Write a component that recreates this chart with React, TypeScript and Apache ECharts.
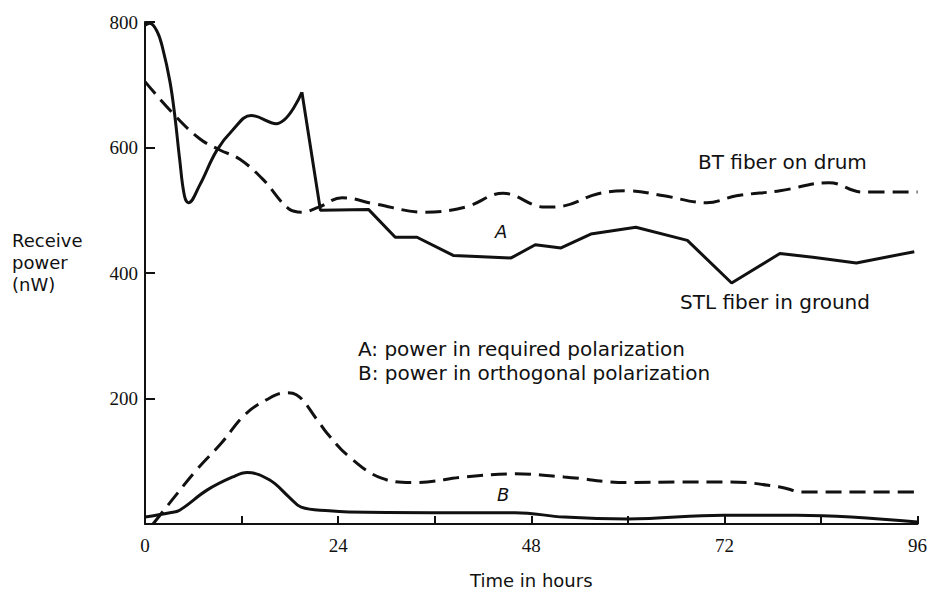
import React, { useEffect, useRef } from "react";
import * as echarts from "echarts";

// STL fiber in ground, power in required polarization (A), solid
const stlHoursEarly = [0, 0.6, 1.5, 2.2, 3.1, 3.7, 4.3, 4.9, 5.4, 6.8, 8.9, 10.9, 13.2, 16.3, 19.5];
const stlPowerEarly = [795, 798, 785, 758, 705, 651, 582, 523, 512, 540, 595, 628, 651, 638, 688];
const stlHoursLate = [19.5, 21.8, 27.8, 31.1, 33.8, 38.3, 45.5, 48.5, 51.7, 55.4, 61, 67.4, 72.9, 78.9, 83, 88.4, 95.6];
const stlPowerLate = [688, 500, 501, 457, 457, 428, 424, 445, 440, 462, 473, 452, 384, 431, 425, 416, 434];

// BT fiber on drum, power in required polarization (A), dashed
const btHours = [0, 3.5, 6.8, 9.3, 11.7, 14.6, 17.9, 19.5, 21.6, 24.5, 28.6, 34.8, 39.8, 44.5, 49.7, 52.1, 56.2, 60, 64.5, 69.8, 73.5, 78.9, 85, 89.2, 96];
const btPower = [705, 654, 614, 596, 582, 550, 502, 497, 505, 520, 510, 497, 505, 527, 505, 507, 526, 531, 523, 512, 523, 531, 544, 529, 529];

// BT fiber, power in orthogonal polarization (B), dashed
const btOrthHours = [1, 3.1, 6.4, 9.5, 12.4, 15.1, 17.5, 18.8, 21.4, 22.6, 25.3, 29.4, 33.4, 39.8, 46, 52.1, 60, 66.5, 72.7, 78.9, 81.8, 88, 96];
const btOrthPower = [0, 34, 86, 129, 174, 198, 209, 206, 166, 145, 108, 73, 66, 75, 80, 75, 66, 67, 67, 59, 51, 51, 51];

// STL fiber, power in orthogonal polarization (B), solid
const stlOrthHours = [0, 3.1, 4.3, 7.7, 10.9, 12.7, 15.5, 17.9, 19.4, 22.9, 25.3, 35.6, 46, 52.1, 60, 71.9, 81, 96];
const stlOrthPower = [11, 18, 22, 54, 75, 82, 70, 43, 27, 21, 19, 18, 18, 11, 8, 14, 14, 3];

const xTickLabels = [0, 24, 48, 72, 96];
const yTickLabels = [200, 400, 600, 800];

const zip = (xs: number[], ys: number[]) => xs.map((x, i) => [x, ys[i]]);

const SANS = "DejaVu Sans";
const SERIF = "Liberation Serif";
const INK = "#111";

export default function App() {
  const ref = useRef<HTMLDivElement>(null);

  useEffect(() => {
    if (!ref.current) return;
    const chart = echarts.init(ref.current, undefined, { renderer: "svg" });
    const solid = { color: INK, width: 3, type: "solid" as const };
    const dashed = { color: INK, width: 3, type: [16, 8] as any };
    const txt = (text: string, x: number, y: number, size = 18, extra: any = {}) => ({
      type: "text",
      x,
      y,
      style: {
        text,
        fill: INK,
        font: `${size}px "${SANS}"`,
        textAlign: "left",
        textVerticalAlign: "middle",
        ...extra,
      },
    });
    chart.setOption({
      animation: false,
      backgroundColor: "#fff",
      grid: { left: 145, right: 8, top: 22, bottom: 66, containLabel: false },
      xAxis: {
        type: "value",
        min: 0,
        max: 96,
        interval: 12,
        axisLine: { show: true, lineStyle: { color: INK, width: 2 } },
        axisTick: { show: true, inside: true, length: 8, lineStyle: { color: INK, width: 2 } },
        splitLine: { show: false },
        axisLabel: {
          color: INK,
          fontFamily: SERIF,
          fontSize: 19,
          margin: 12,
          formatter: (v: number) => (xTickLabels.includes(v) ? String(v) : ""),
        },
      },
      yAxis: {
        type: "value",
        min: 0,
        max: 800,
        interval: 200,
        axisLine: { show: true, lineStyle: { color: INK, width: 2 } },
        axisTick: { show: true, inside: true, length: 10, lineStyle: { color: INK, width: 2 } },
        splitLine: { show: false },
        axisLabel: {
          color: INK,
          fontFamily: SERIF,
          fontSize: 19,
          margin: 7,
          formatter: (v: number) => (yTickLabels.includes(v) ? String(v) : ""),
        },
      },
      series: [
        {
          type: "line",
          data: zip(stlHoursEarly, stlPowerEarly),
          smooth: 0.4,
          showSymbol: false,
          lineStyle: solid,
        },
        {
          type: "line",
          data: zip(stlHoursLate, stlPowerLate),
          smooth: false,
          showSymbol: false,
          lineStyle: solid,
        },
        {
          type: "line",
          data: zip(btHours, btPower),
          smooth: 0.4,
          showSymbol: false,
          lineStyle: dashed,
        },
        {
          type: "line",
          data: zip(btOrthHours, btOrthPower),
          smooth: 0.4,
          showSymbol: false,
          lineStyle: dashed,
        },
        {
          type: "line",
          data: zip(stlOrthHours, stlOrthPower),
          smooth: 0.4,
          showSymbol: false,
          lineStyle: solid,
        },
      ],
      graphic: [
        txt("BT fiber on drum", 698, 162, 20),
        txt("STL fiber in ground", 680, 302, 20),
        txt("A: power in required polarization", 358, 349, 20),
        txt("B: power in orthogonal polarization", 358, 373, 20),
        txt("A", 495, 231, 18, { font: `italic 18px "${SANS}"` }),
        txt("B", 497, 494, 18, { font: `italic 18px "${SANS}"` }),
        txt("Receive", 12, 240),
        txt("power", 12, 262),
        txt("(nW)", 12, 284),
        txt("Time in hours", 470, 580),
      ],
    });
    return () => chart.dispose();
  }, []);

  return (
    <div
      ref={ref}
      style={{ position: "fixed", left: 0, top: 0, width: 930, height: 590, background: "#fff" }}
    />
  );
}
